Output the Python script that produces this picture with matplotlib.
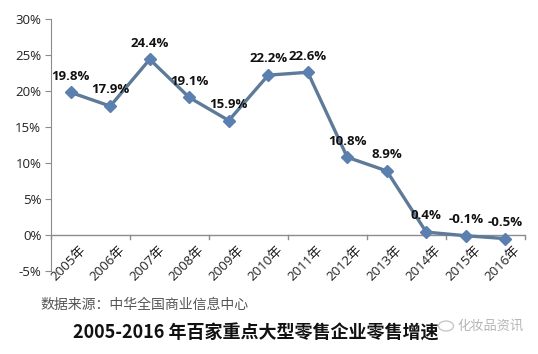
import matplotlib
matplotlib.use("Agg")
import matplotlib.pyplot as plt
from matplotlib.patches import Circle

plt.rcParams["font.family"] = ["Open Sans", "Noto Sans CJK SC", "DejaVu Sans"]

YEARS = ["2005年", "2006年", "2007年", "2008年", "2009年", "2010年",
         "2011年", "2012年", "2013年", "2014年", "2015年", "2016年"]
GROWTH = [19.8, 17.9, 24.4, 19.1, 15.9, 22.2, 22.6, 10.8, 8.9, 0.4, -0.1, -0.5]
LABELS = ["19.8%", "17.9%", "24.4%", "19.1%", "15.9%", "22.2%",
          "22.6%", "10.8%", "8.9%", "0.4%", "-0.1%", "-0.5%"]
YTICKS = [-5, 0, 5, 10, 15, 20, 25, 30]

LINE = "#5d7a99"
MARK = "#5b7fae"
AXIS = "#8c8c8c"

fig = plt.figure(figsize=(5.38, 3.54), dpi=100)
ax = fig.add_axes([51 / 538, 1 - 271 / 354, 474 / 538, 252 / 354])

x = list(range(len(YEARS)))
ax.plot(x, GROWTH, color=LINE, lw=2.4, marker="D", ms=6,
        mfc=MARK, mec=MARK, zorder=3)
for xi, v, lab in zip(x, GROWTH, LABELS):
    ax.annotate(lab, (xi, v), xytext=(0, 7), textcoords="offset points",
                ha="center", va="bottom", fontsize=9.5, fontweight="bold",
                color="#111111")

ax.set_xlim(-0.5, len(YEARS) - 0.5)
ax.set_ylim(-5, 30)
ax.set_yticks(YTICKS)
ax.set_yticklabels([f"{t}%" for t in YTICKS], fontsize=9.5, color="#222222")
ax.tick_params(axis="y", length=4, color=AXIS, pad=3)
ax.set_xticks([])
for s in ("top", "right", "bottom"):
    ax.spines[s].set_visible(False)
ax.spines["left"].set_color(AXIS)
ax.axhline(0, color=AXIS, lw=1.0, zorder=1)

# boundary tick marks on the zero line (every second boundary)
for b in range(0, len(YEARS) + 1, 2):
    ax.plot([b - 0.5, b - 0.5], [0, -0.5], color=AXIS, lw=1.0, clip_on=False)

for xi, lab in zip(x, YEARS):
    ax.annotate(lab, (xi, 0), xytext=(6, -6), textcoords="offset points",
                ha="right", va="top", rotation=45, rotation_mode="anchor",
                fontsize=9.5, color="#222222")

fig.text(40 / 538, 1 - 305 / 354, "数据来源：中华全国商业信息中心",
         fontsize=10, color="#555555", va="center", ha="left",
         family=["Noto Sans CJK SC"])
fig.text(256 / 538, 1 - 333 / 354, "2005-2016 年百家重点大型零售企业零售增速",
         fontsize=13, fontweight="bold", color="#111111",
         va="center", ha="center", family=["Noto Sans CJK SC"])

fig.patches.append(Circle((446 / 538, 1 - 326 / 354), 0.014, transform=fig.transFigure,
                          fill=False, ec="#c8c8c8", lw=1.0))
fig.text(457 / 538, 1 - 326 / 354, "化妆品资讯", fontsize=9.5, color="#b5b5b5",
         va="center", ha="left", family=["Noto Sans CJK SC"])

fig.savefig("out.png", dpi=100)
